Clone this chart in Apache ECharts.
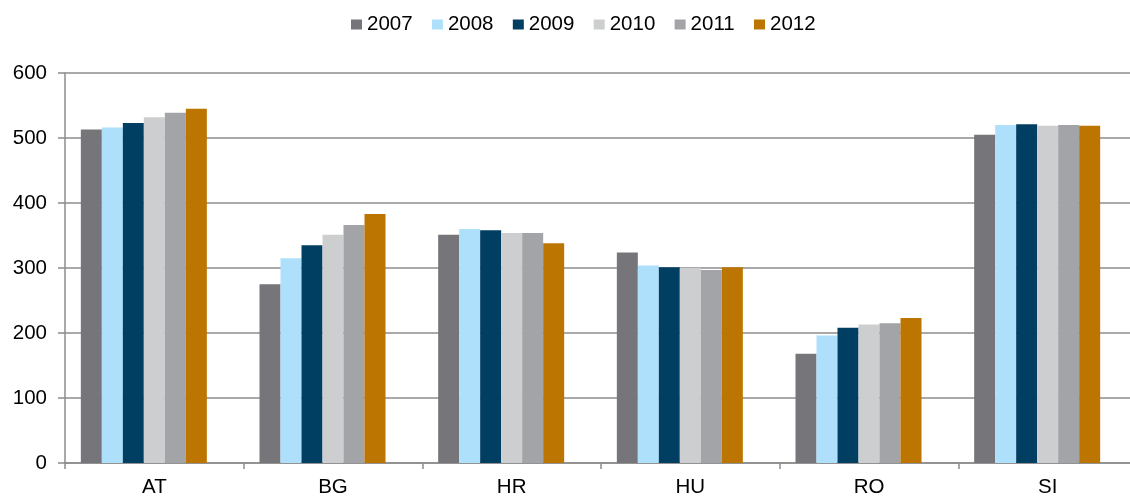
<!DOCTYPE html>
<html><head><meta charset="utf-8">
<script src="https://cdn.jsdelivr.net/npm/echarts@6/dist/echarts.min.js"></script>
<style>html,body{margin:0;padding:0;background:#fff}#c{width:1130px;height:496px}</style>
</head><body><div id="c"></div>
<script>
const categories = ['AT','BG','HR','HU','RO','SI'];
const years = ['2007','2008','2009','2010','2011','2012'];
const colors = ['#767579','#aee0fc','#003f62','#cdcecf','#a3a4a7','#bb7500'];
const v2007 = [513, 275, 351, 324, 168, 505];
const v2008 = [516, 315, 360, 304, 196, 520];
const v2009 = [523, 335, 358, 301, 208, 521];
const v2010 = [532, 351, 354, 300, 213, 519];
const v2011 = [539, 366, 354, 297, 215, 520];
const v2012 = [545, 383, 338, 301, 223, 519];
const yTicks = [0,100,200,300,400,500,600];
const values = [v2007,v2008,v2009,v2010,v2011,v2012];

const font = 'Liberation Sans, Arial, sans-serif';
const fs = 20.5;
const series = years.map((y,i)=>({
  name:y, type:'bar', data:values[i], barWidth:21, barGap:'0%',
  itemStyle:{color:colors[i]}, silent:true
}));
// empty spacer series (reproduces the left-shifted bar groups)
series.push({name:'_spacer', type:'bar', data:categories.map(()=>'-'), barWidth:21, barGap:'0%', silent:true});

const chart = echarts.init(document.getElementById('c'), null, {renderer:'canvas'});
chart.setOption({
  animation:false,
  legend:{
    data:years, top:9, left:346, itemWidth:11, itemHeight:10, itemGap:19.3,
    icon:'rect', textStyle:{fontFamily:font, fontSize:fs, color:'#000'}
  },
  grid:{left:65, top:73, width:1072, height:390, containLabel:false, outerBoundsMode:'none'},
  xAxis:{
    type:'category', data:categories, boundaryGap:true,
    axisLine:{lineStyle:{color:'#8c8c8c', width:1.5}},
    axisTick:{show:true, length:6, lineStyle:{color:'#8c8c8c', width:1.5}},
    axisLabel:{fontFamily:font, fontSize:fs, color:'#000', margin:14}
  },
  yAxis:{
    type:'value', min:0, max:600, interval:100,
    axisLine:{show:true, lineStyle:{color:'#8c8c8c', width:1.5}},
    axisTick:{show:true, length:7, inside:false, lineStyle:{color:'#8c8c8c', width:1.5}},
    splitLine:{show:true, lineStyle:{color:'#8c8c8c', width:1.5}},
    axisLabel:{fontFamily:font, fontSize:fs, color:'#000', margin:18,
      formatter:(v)=> yTicks.includes(v) ? String(v) : ''}
  },
  series:series
});
</script></body></html>
